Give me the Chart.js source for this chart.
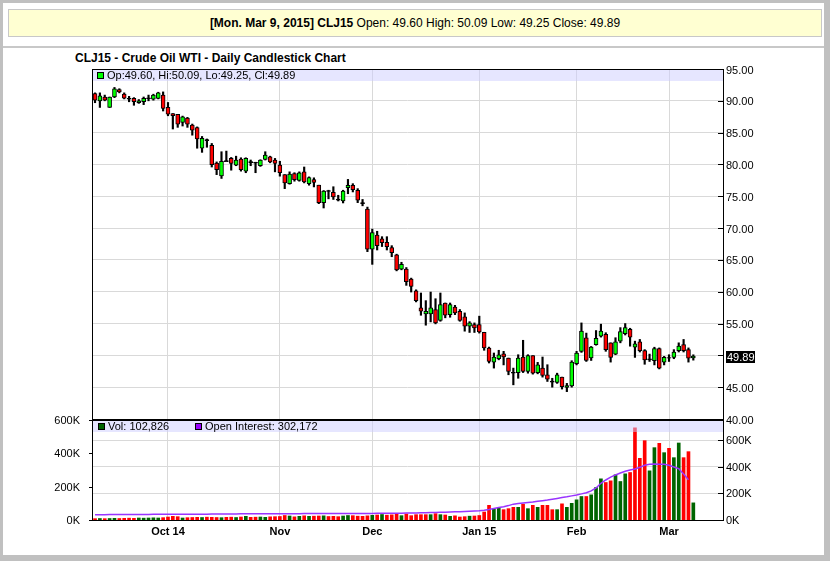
<!DOCTYPE html>
<html>
<head>
<meta charset="utf-8">
<script src="https://cdn.jsdelivr.net/npm/chart.js@4.4.1/dist/chart.umd.min.js"></script>
<style>
html,body{margin:0;padding:0;}
body{width:830px;height:561px;background:#c0c0c0;position:relative;overflow:hidden;font-family:"Liberation Sans",Arial,sans-serif;}
#panel{position:absolute;left:3px;top:3px;width:821px;height:552px;background:#fff;}
#header{position:absolute;left:8px;top:9px;width:812px;height:26px;background:#ffffd2;border:1px solid #c8c8c8;text-align:center;font-size:12px;line-height:26px;color:#000;}
#sep{position:absolute;left:3px;top:46px;width:821px;height:2px;background:#c8c8c8;}
#title{position:absolute;left:75px;top:51px;font-size:12px;line-height:14px;font-weight:bold;color:#000;}
canvas{position:absolute;left:0;top:0;}
</style>
</head>
<body>
<div id="panel"></div>
<div id="header"></div>
<div id="sep"></div>
<div id="title">CLJ15 - Crude Oil WTI - Daily Candlestick Chart</div>
<canvas id="price" width="830" height="561"></canvas>
<canvas id="vol" width="830" height="561"></canvas>
<script>
// daily OHLC, Sep 10 2014 .. Mar 9 2015
const opens = [91.15,90.0,90.6,88.96,90.6,91.77,91.04,90.4,90.4,89.7,89.85,90.35,90.26,90.36,90.9,88.96,88.0,87.86,86.6,87.3,86.2,85.8,82.55,83.9,83.0,80.2,78.2,80.6,80.95,79.9,80.84,78.95,80.45,80.35,79.8,80.8,81.2,80.7,79.9,78.4,77.0,78.58,77.5,78.84,77.0,77.63,76.74,74.0,75.9,75.6,74.55,74.26,76.35,76.7,75.94,74.0,72.97,66.7,68.9,68.3,67.76,66.93,65.8,63.54,63.54,61.98,60.16,57.45,56.5,56.5,57.2,55.5,58.23,56.4,57.6,56.93,56.04,54.58,54.84,54.84,53.63,51.16,48.95,49.47,50.26,49.58,47.35,47.3,49.74,47.47,49.95,47.3,48.0,46.95,45.95,45.74,46.58,44.95,45.2,48.7,50.63,52.74,49.58,51.7,53.03,53.3,51.97,50.2,52.23,53.4,54.1,51.28,52.13,50.74,49.45,49.15,51.06,48.94,49.65,49.68,50.74,51.7,50.9,49.60];
const highs = [91.25,91.25,90.9,90.6,92.1,91.9,91.25,90.7,90.5,90.2,90.6,90.9,91.04,91.35,91.4,89.74,88.0,87.86,87.6,87.4,86.35,85.9,84.4,84.0,83.3,80.4,82.0,82.1,81.1,81.3,81.05,81.05,80.7,80.35,80.74,82.0,81.3,80.95,80.5,78.4,78.84,78.7,78.84,79.6,78.05,77.9,76.74,75.9,75.95,76.5,75.16,75.95,77.65,76.98,76.2,74.5,73.3,69.84,69.5,68.65,68.65,67.24,65.9,64.63,63.8,62.14,60.3,59.8,58.6,59.95,58.9,59.8,58.23,58.23,57.86,57.2,56.67,55.3,55.1,56.16,53.63,51.3,50.37,50.8,50.63,49.58,48.0,50.1,52.37,50.1,49.95,48.9,49.74,48.53,46.4,47.2,46.58,45.6,49.16,50.63,55.1,53.5,51.4,53.9,54.9,53.56,51.97,52.77,54.36,55.0,54.26,52.23,52.5,50.9,50.2,51.28,51.17,49.84,50.1,50.9,51.97,52.5,51.17,50.09];
const lows = [89.7,88.96,90.0,88.96,90.5,91.25,90.3,89.85,89.3,89.6,89.4,90.0,90.1,90.3,88.4,87.65,85.57,85.83,86.04,85.83,84.6,82.55,81.9,82.7,79.6,78.4,77.8,80.5,79.1,79.8,78.95,78.7,79.8,78.7,79.7,80.7,80.26,78.84,78.16,76.2,76.9,77.37,77.37,77.1,76.74,76.47,73.84,73.16,74.6,74.5,74.26,73.95,75.4,75.68,74.0,73.5,66.3,64.3,66.56,67.1,66.56,65.5,63.28,63.44,61.0,59.95,58.4,56.3,54.74,55.26,54.95,55.36,55.9,55.99,56.4,55.36,53.8,53.6,53.6,53.5,50.8,48.8,48.0,49.3,48.5,46.95,45.37,46.4,47.3,47.2,47.05,47.1,46.58,45.9,45.0,45.6,44.7,44.3,45.0,48.5,50.47,49.05,49.2,51.6,52.87,50.64,48.94,50.1,51.97,53.2,51.44,49.68,50.53,48.6,49.04,48.5,47.87,48.5,49.04,49.47,50.53,50.53,48.94,49.25];
const closes = [90.1,90.8,90.1,90.6,91.9,91.4,90.4,90.25,89.85,90.0,90.4,90.45,90.9,91.25,88.8,87.9,87.65,86.35,87.5,86.35,85.4,84.0,84.1,83.75,79.95,79.2,80.5,80.45,80.16,80.7,79.2,80.95,80.3,80.2,80.7,81.47,80.4,80.16,78.7,77.1,78.47,77.6,78.7,77.26,77.95,77.16,74.0,75.8,75.75,74.9,74.4,75.8,76.7,76.04,74.4,73.85,66.7,69.3,67.24,67.7,67.08,66.15,63.44,64.3,61.6,60.83,58.6,56.93,56.9,57.45,55.1,57.97,56.3,57.97,56.67,55.5,54.58,55.1,54.3,53.7,51.16,49.05,49.74,50.1,49.74,47.47,47.2,49.58,47.47,49.95,47.2,48.5,46.84,46.26,45.8,46.95,45.1,45.26,48.95,50.37,53.8,49.2,51.3,52.66,53.83,50.9,49.68,52.13,53.72,54.36,52.87,51.8,50.74,49.3,49.3,51.06,47.98,49.68,49.57,50.53,51.44,50.74,49.57,49.89];

// volume and open interest, thousands of contracts
const volumes = [8,9,8,9,10,9,10,11,10,12,11,12,13,12,14,
  18,22,20,12,14,15,16,15,17,16,15,14,16,17,15,18,22,16,17,18,16,19,20,
  21,27,24,19,22,25,22,23,24,25,21,22,20,24,27,26,23,22,25,
  28,30,33,29,31,40,26,36,26,32,32,32,32,38,32,30,22,25,18,20,23,24,
  27,48,88,66,76,62,68,76,76,95,68,88,76,88,88,62,62,97,76,100,
  121,141,141,151,195,247,225,235,271,231,277,285,553,370,476,295,434,460,404,
  430,374,462,374,410,102.826];
const openInterest = [40,40,40,41,41,41,41,42,42,42,42,42,43,43,43,
  43,43,43,44,44,44,44,44,44,45,45,45,45,45,45,46,46,46,46,46,46,47,47,
  47,47,47,47,47,48,48,48,48,48,48,48,48,49,49,49,49,49,49,
  49,50,50,50,50,51,51,52,52,53,54,55,56,57,58,59,60,61,62,64,66,68,
  70,74,79,86,93,100,108,119,123,127,131,135,140,145,150,156,162,168,174,181,
  188,196,205,218,240,275,300,322,338,352,365,375,383,395,410,418,420,419,418,
  410,398,385,345,302.172];

// first trading day of each month and its axis label
const monthIdx = [15, 38, 57, 79, 99, 118];
const monthLabels = ['Oct 14', 'Nov', 'Dec', 'Jan 15', 'Feb', 'Mar'];
const priceTicks = [40,45,50,55,60,65,70,75,80,85,90,95];
const volTicks = [0,200,400,600];

const last = closes.length - 1;
const fmt = v => v.toFixed(2);
const thou = v => Math.round(v * 1000).toLocaleString('en-US');

document.getElementById('header').innerHTML =
  '<b>[Mon. Mar 9, 2015] CLJ15</b> Open: ' + fmt(opens[last]) + ' High: ' + fmt(highs[last]) +
  ' Low: ' + fmt(lows[last]) + ' Close: ' + fmt(closes[last]);

Chart.defaults.font.family = '"Liberation Sans", Arial, sans-serif';
Chart.defaults.font.size = 11;
Chart.defaults.color = '#000';

const GRID = '#d9d9d9';
const FONT = '11px "Liberation Sans", Arial, sans-serif';

function candleColor(i) {
  const d = closes[i] - opens[i];
  if (Math.abs(d) < 0.2) return '#000';
  return d > 0 ? '#00ff00' : '#ff0000';
}
function volColor(i) {
  const prev = i > 0 ? closes[i - 1] : opens[0];
  return closes[i] >= prev ? '#006400' : '#ff0000';
}

// band with legend, black frame and inward/outward tick marks
const panelPlugin = {
  id: 'panel',
  afterDatasetsDraw(chart, args, opts) {
    const ctx = chart.ctx;
    const a = chart.chartArea;
    ctx.save();
    ctx.fillStyle = 'rgba(205,205,255,0.5)';
    ctx.fillRect(a.left, a.top, a.right - a.left, opts.band);
    ctx.font = FONT;
    ctx.textBaseline = 'middle';
    opts.items.forEach(it => {
      ctx.fillStyle = '#000';
      ctx.fillRect(it.x, a.top + 3, 7, 7);
      ctx.fillStyle = it.color;
      ctx.fillRect(it.x + 1, a.top + 4, 5, 5);
      ctx.fillStyle = '#000';
      ctx.fillText(it.text, it.x + 10, a.top + opts.band / 2 + 1);
    });
    ctx.fillStyle = '#000';
    const w = a.right - a.left;
    const h = a.bottom - a.top;
    ctx.fillRect(a.left, a.top, w, 1);
    ctx.fillRect(a.left, a.bottom, w + 1, 1);
    ctx.fillRect(a.left, a.top, 1, h);
    ctx.fillRect(a.right, a.top, 1, h + 1);
    (opts.inTicks || []).forEach(([id, vals]) => {
      const s = chart.scales[id];
      vals.forEach(v => ctx.fillRect(a.right - 5, Math.round(s.getPixelForValue(v)), 5, 1));
    });
    (opts.outTicks || []).forEach(([id, vals]) => {
      const s = chart.scales[id];
      vals.forEach(v => ctx.fillRect(a.left - 3, Math.round(s.getPixelForValue(v)), 3, 1));
    });
    ctx.restore();
  }
};

const lastPricePlugin = {
  id: 'lastPrice',
  afterDraw(chart) {
    const ctx = chart.ctx;
    const y = chart.scales.y.getPixelForValue(closes[last]);
    const x = chart.chartArea.right + 3;
    ctx.save();
    ctx.fillStyle = '#000';
    ctx.fillRect(x, Math.round(y) - 5, 29, 12);
    ctx.fillStyle = '#fff';
    ctx.font = FONT;
    ctx.textBaseline = 'middle';
    ctx.fillText(fmt(closes[last]), x + 1, y + 1.5);
    ctx.restore();
  }
};

const xRange = { type: 'linear', min: -0.62, max: 129.1, offset: false };
const monthTicks = s => { s.ticks = monthIdx.map(v => ({ value: v })); };

new Chart(document.getElementById('price'), {
  type: 'bar',
  data: {
    datasets: [
      {
        data: lows.map((l, i) => ({ x: i, y: [l, highs[i]] })),
        backgroundColor: '#000',
        barThickness: 1.5,
        grouped: false,
        order: 2
      },
      {
        data: opens.map((o, i) => ({ x: i, y: [o, closes[i]] })),
        backgroundColor: ctx => candleColor(ctx.dataIndex),
        borderColor: '#000',
        borderWidth: 1,
        borderSkipped: false,
        barThickness: 4,
        grouped: false,
        order: 1
      }
    ]
  },
  options: {
    responsive: false,
    animation: false,
    events: [],
    layout: { padding: { left: 92, right: 57, top: 69, bottom: 142 } },
    plugins: {
      legend: { display: false },
      tooltip: { enabled: false },
      panel: {
        band: 12,
        items: [{ x: 97, color: '#00ff00',
          text: 'Op:' + fmt(opens[last]) + ', Hi:' + fmt(highs[last]) + ', Lo:' + fmt(lows[last]) + ', Cl:' + fmt(closes[last]) }],
        inTicks: [['y', priceTicks]]
      }
    },
    scales: {
      x: Object.assign({}, xRange, {
        afterBuildTicks: monthTicks,
        ticks: { display: false },
        grid: { color: GRID, drawTicks: false, offset: false },
        border: { display: false },
        afterFit: s => { s.height = 0; }
      }),
      y: {
        position: 'right',
        min: 40,
        max: 95,
        afterBuildTicks: s => { s.ticks = priceTicks.map(v => ({ value: v })); },
        ticks: { callback: v => v.toFixed(2), padding: 3, labelOffset: 1.5 },
        grid: { color: GRID, drawTicks: false },
        border: { display: false },
        afterFit: s => { s.width = 50; }
      }
    }
  },
  plugins: [panelPlugin, lastPricePlugin]
});

new Chart(document.getElementById('vol'), {
  type: 'bar',
  data: {
    datasets: [
      {
        type: 'line',
        data: openInterest.map((v, i) => ({ x: i, y: v })),
        yAxisID: 'yoi',
        borderColor: '#9933ff',
        borderWidth: 1.5,
        pointRadius: 0,
        order: 0
      },
      {
        data: volumes.map((v, i) => ({ x: i, y: v })),
        yAxisID: 'yv',
        backgroundColor: ctx => volColor(ctx.dataIndex),
        barThickness: 3,
        grouped: false,
        order: 1
      }
    ]
  },
  options: {
    responsive: false,
    animation: false,
    events: [],
    layout: { padding: { left: 52, right: 57, top: 420, bottom: 21 } },
    plugins: {
      legend: { display: false },
      tooltip: { enabled: false },
      panel: {
        band: 12,
        items: [
          { x: 98, color: '#006400', text: 'Vol: ' + thou(volumes[last]) },
          { x: 195, color: '#9900ff', text: 'Open Interest: ' + thou(openInterest[openInterest.length - 1]) }
        ],
        inTicks: [['yoi', [0, 200, 400, 600]]],
        outTicks: [['yv', volTicks]]
      }
    },
    scales: {
      x: Object.assign({}, xRange, {
        afterBuildTicks: monthTicks,
        ticks: {
          autoSkip: false,
          maxRotation: 0,
          padding: 5,
          font: { weight: 'bold' },
          callback: v => monthLabels[monthIdx.indexOf(v)] || ''
        },
        grid: { color: GRID, drawTicks: false, offset: false },
        border: { display: false },
        afterFit: s => { s.height = 20; }
      }),
      yv: {
        position: 'left',
        min: 0,
        max: 600,
        afterBuildTicks: s => { s.ticks = volTicks.map(v => ({ value: v })); },
        ticks: { callback: v => v + 'K', padding: 4, labelOffset: 1 },
        grid: { display: false },
        border: { display: false },
        afterFit: s => { s.width = 40; }
      },
      yoi: {
        position: 'right',
        min: 0,
        max: 750,
        afterBuildTicks: s => { s.ticks = [0, 200, 400, 600].map(v => ({ value: v })); },
        ticks: { callback: v => v + 'K', padding: 3, labelOffset: 1 },
        grid: { color: GRID, drawTicks: false },
        border: { display: false },
        afterFit: s => { s.width = 50; }
      }
    }
  },
  plugins: [panelPlugin]
});
</script>
</body>
</html>
